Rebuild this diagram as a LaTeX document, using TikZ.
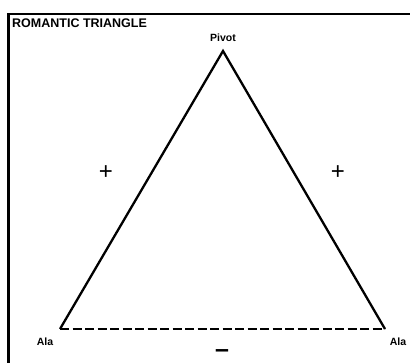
\documentclass[tikz,border=0pt]{standalone}
\usepackage{fontspec}
\setmainfont{Liberation Sans}
\begin{document}
\begin{tikzpicture}[x=1pt,y=-1pt,
  lbl/.style={font=\fontsize{10.5}{12}\selectfont\bfseries, inner sep=0pt},
  sign/.style={font=\fontsize{24}{26}\selectfont, inner sep=0pt},
  side/.style={line width=2.3pt, line join=miter},
  frame/.style={line width=2.4pt}]
\useasboundingbox (0,0) rectangle (410,363);
\fill[white] (0,0) rectangle (410,363);
\draw[frame] (8.5,363) -- (8.5,14) -- (410,14);
\node[anchor=north west, inner sep=0pt, font=\fontsize{12.5}{14}\selectfont\bfseries] (title) at (12,19) {ROMANTIC TRIANGLE};
\coordinate (P) at (223,51);
\coordinate (A1) at (60,329);
\coordinate (A2) at (385,329);
\draw[side] (A1) -- (P) -- (A2);
\draw[line width=2.3pt, dash pattern=on 9pt off 3.5pt] (A1) -- (A2);
\node[lbl] (pivot) at (223,38) {Pivot};
\node[lbl] (ala1) at (45,342) {Ala};
\node[lbl] (ala2) at (398,342) {Ala};
\node[sign] (plus1) at (106,173) {+};
\node[sign] (plus2) at (338,173) {+};
\node[font=\fontsize{25}{28}\selectfont\bfseries, inner sep=0pt] (minus) at (222,353.5) {–};
\end{tikzpicture}
\end{document}
